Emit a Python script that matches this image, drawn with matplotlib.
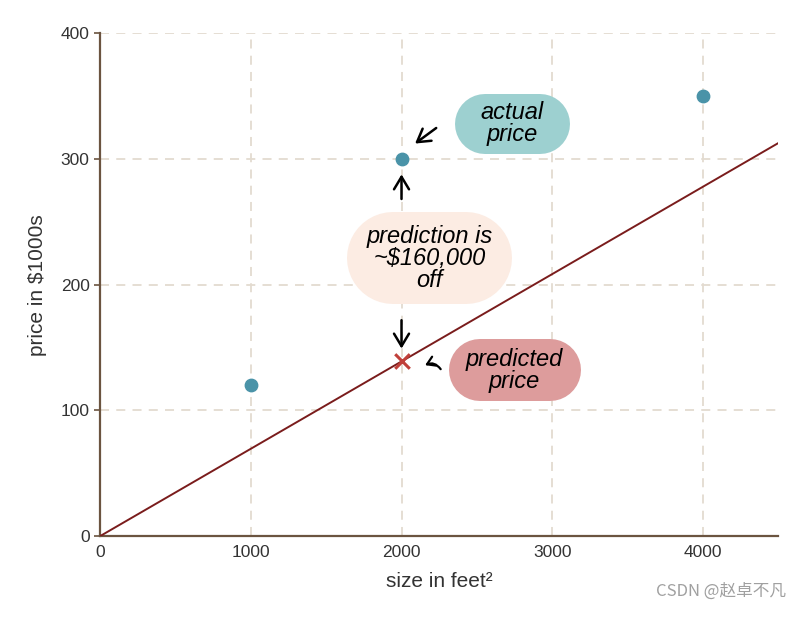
import matplotlib.pyplot as plt

plt.rcParams['font.family'] = ['Liberation Sans', 'Noto Sans CJK SC', 'DejaVu Sans']

# data
sizes = [1000, 2000, 4000]
prices = [120, 300, 350]
w = 0.0695  # slope of the model line
line_x = [0, 4500]
line_y = [w * v for v in line_x]
pred_x = 2000
pred_y = w * pred_x

spine_c = '#6b5440'
grid_c = '#e3dbd0'

fig = plt.figure(figsize=(8, 6.17), dpi=100)
ax = fig.add_axes([0.125, 0.131, 0.848, 0.815])

ax.plot(line_x, line_y, color='#7a1c1c', lw=1.4, zorder=3)
ax.scatter(sizes, prices, s=80, color='#4a93a8', zorder=4)
ax.scatter([pred_x], [pred_y], marker='x', s=110, color='#c0403a', linewidths=2.2, zorder=4)

ax.set_xlim(0, 4500)
ax.set_ylim(0, 400)
ax.set_xticks([0, 1000, 2000, 3000, 4000])
ax.set_yticks([0, 100, 200, 300, 400])
ax.grid(True, color=grid_c, ls=(0, (5, 4)), lw=1.3)
ax.set_axisbelow(True)
for s in ['top', 'right']:
    ax.spines[s].set_visible(False)
for s in ['left', 'bottom']:
    ax.spines[s].set_color(spine_c)
    ax.spines[s].set_linewidth(1.6)
ax.tick_params(axis='y', colors=spine_c, length=4, width=1.2, labelcolor='#333333', labelsize=12.5)
ax.tick_params(axis='x', length=0, labelcolor='#333333', labelsize=12.5, pad=6)
ax.set_xlabel('size in feet²', fontsize=15, color='#333333', labelpad=9)
ax.set_ylabel('price in $1000s', fontsize=15, color='#333333', labelpad=10)

xpp = 4500 / 678  # data units per pixel along x

# bubbles: center (data), label, colour, width/height in pixels
bubbles = [
    (2735, 328, 'actual\nprice', '#9dd0d0', 115, 60),
    (2185, 221, 'prediction is\n~$160,000\noff', '#fcece3', 165, 92),
    (2750, 132, 'predicted\nprice', '#dd9c9c', 132, 62),
]
for bx, by, txt, col, wpx, hpx in bubbles:
    half = (wpx - hpx) / 2 * xpp
    # thick line with round caps gives a pill shape
    ax.plot([bx - half, bx + half], [by, by], color=col, lw=hpx * 0.72,
            solid_capstyle='round', zorder=2)
    ax.text(bx, by, txt, ha='center', va='center', fontsize=17, fontstyle='italic',
            color='black', linespacing=0.95, zorder=5)

arrow = dict(arrowstyle='->,head_length=0.5,head_width=0.3', color='black', lw=1.8, mutation_scale=18)
ax.annotate('', xy=(2000, 290), xytext=(2000, 266), arrowprops=arrow, zorder=5)
ax.annotate('', xy=(2000, 147), xytext=(2000, 174), arrowprops=arrow, zorder=5)
ax.annotate('', xy=(2075, 311), xytext=(2245, 326), arrowprops=arrow, zorder=5)
ax.annotate('', xy=(2140, 135), xytext=(2270, 131),
            arrowprops=dict(arrowstyle='->,head_length=0.4,head_width=0.25', color='black', lw=1.6,
                            mutation_scale=14, connectionstyle='arc3,rad=0.5'), zorder=5)

fig.text(0.982, 0.028, 'CSDN @赵卓不凡', ha='right', va='bottom', fontsize=12,
         color='#a0a0a0', family=['Noto Sans CJK SC', 'DejaVu Sans'])

fig.savefig('out.png', dpi=100)
